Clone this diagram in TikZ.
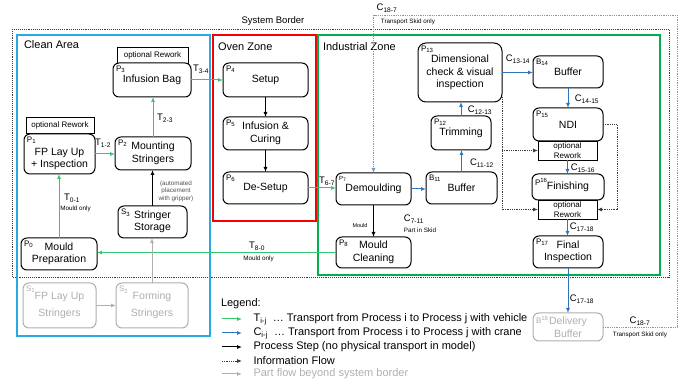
\documentclass[tikz,border=0pt]{standalone}
\usepackage{fontspec}
\setmainfont{Liberation Sans}
\usetikzlibrary{arrows.meta,calc}
\definecolor{cleanblue}{RGB}{41,171,226}
\definecolor{ovenred}{RGB}{250,0,0}
\definecolor{indgreen}{RGB}{0,176,80}
\definecolor{tgreen}{RGB}{50,200,110}
\definecolor{cblue}{RGB}{46,117,190}
\definecolor{sgray}{RGB}{175,175,175}
\definecolor{skidblue}{RGB}{110,155,210}
\definecolor{bordergray}{RGB}{60,60,60}
\definecolor{notegray}{RGB}{80,80,80}
\begin{document}
\begin{tikzpicture}[x=1pt,y=-1pt,
 every node/.style={inner sep=0pt, outer sep=0pt},
 proc/.style={draw=black, line width=1pt, rounded corners=6pt, fill=white, align=center, font=\fontsize{10.5}{12.5}\selectfont},
 sproc/.style={proc, draw=sgray, text=sgray, font=\fontsize{10.5}{17}\selectfont},
 rwbox/.style={draw=black, line width=0.9pt, fill=white, align=center, font=\fontsize{8}{10}\selectfont},
 zone/.style={line width=2.5pt},
 ztitle/.style={anchor=west, font=\fontsize{11}{13}\selectfont},
 plbl/.style={anchor=north west, font=\fontsize{8}{9}\selectfont, xshift=3pt, yshift=-3pt},
 elbl/.style={font=\fontsize{9.5}{11}\selectfont},
 small/.style={font=\fontsize{6.3}{7.5}\selectfont, align=center},
 tarrow/.style={draw=tgreen, line width=1pt, -{Latex[length=5pt,width=4pt]}},
 carrow/.style={draw=cblue, line width=1pt, -{Latex[length=5pt,width=4pt]}},
 parrow/.style={draw=black, line width=1pt, -{Latex[length=5pt,width=4pt]}},
 garrow/.style={draw=sgray, line width=1pt, -{Latex[length=5pt,width=4pt]}},
 info/.style={draw=bordergray, densely dotted, line width=0.8pt, -{Latex[length=5pt,width=4pt]}},
 skid/.style={draw=skidblue, densely dotted, line width=0.8pt, -{Latex[length=5pt,width=4pt]}},
]
\useasboundingbox (0,0) rectangle (686,387);

% system border
\draw[bordergray, densely dotted, line width=0.9pt] (12,29) rectangle (669,277);
\node[font=\fontsize{9.5}{11}\selectfont] (sb) at (273,21) {System Border};

% zones
\draw[zone, cleanblue] (17,35) rectangle (210,336);
\draw[zone, ovenred] (213,35) rectangle (316,221);
\draw[zone, indgreen] (318,35) rectangle (660,275);
\node[ztitle] (zc) at (24,45) {Clean Area};
\node[ztitle] (zo) at (218,47) {Oven Zone};
\node[ztitle] (zi) at (323,47) {Industrial Zone};

% clean area nodes
\node[rwbox, minimum width=71pt, minimum height=16pt] (rw3) at (152.5,55) {optional Rework};
\node[proc, minimum width=78pt, minimum height=34pt, label={[plbl]north west:P\textsubscript{3}}] (P3) at (152,80) {Infusion Bag};
\node[rwbox, minimum width=68pt, minimum height=16pt] (rw1) at (60,125) {optional Rework};
\node[proc, minimum width=71pt, minimum height=40pt, label={[plbl]north west:P\textsubscript{1}}] (P1) at (59.5,154) {\rule{0pt}{17pt}FP Lay Up\\+ Inspection};
\node[proc, minimum width=76pt, minimum height=33pt, label={[plbl]north west:P\textsubscript{2}}] (P2) at (153,153.5) {Mounting\\Stringers};
\node[proc, minimum width=69pt, minimum height=32pt, label={[plbl]north west:S\textsubscript{3}}] (S3) at (152.5,222) {Stringer\\Storage};
\node[proc, minimum width=76pt, minimum height=32pt, label={[plbl]north west:P\textsubscript{0}}] (P0) at (59,254) {Mould\\Preparation};
\node[sproc, minimum width=73pt, minimum height=45pt, label={[plbl, text=sgray]north west:S\textsubscript{1}}] (S1) at (59.5,305.5) {FP Lay Up\\Stringers};
\node[sproc, minimum width=72pt, minimum height=45pt, label={[plbl, text=sgray]north west:S\textsubscript{2}}] (S2) at (152,305.5) {Forming\\Stringers};

% oven zone nodes
\node[proc, minimum width=85pt, minimum height=34pt, label={[plbl]north west:P\textsubscript{4}}] (P4) at (265.5,80) {Setup};
\node[proc, minimum width=85pt, minimum height=33pt, label={[plbl]north west:P\textsubscript{5}}] (P5) at (265.5,133.5) {Infusion \&\\Curing};
\node[proc, minimum width=85pt, minimum height=32pt, label={[plbl]north west:P\textsubscript{6}}] (P6) at (265.5,188) {De-Setup};

% industrial zone nodes
\node[proc, minimum width=75pt, minimum height=32pt, label={[plbl, font=\fontsize{6}{7}\selectfont]north west:P\textsubscript{7}}] (P7) at (373.5,189) {Demoulding};
\node[proc, minimum width=75pt, minimum height=31pt, label={[plbl]north west:P\textsubscript{8}}] (P8) at (373.5,252.5) {Mould\\Cleaning};
\node[proc, minimum width=71pt, minimum height=32pt, label={[plbl]north west:B\textsubscript{11}}] (B11) at (461.5,188) {Buffer};
\node[proc, minimum width=60pt, minimum height=34pt, label={[plbl]north west:P\textsubscript{12}}] (P12) at (461,133) {Trimming};
\node[proc, rounded corners=8pt, minimum width=84pt, minimum height=59pt, label={[plbl]north west:P\textsubscript{13}}] (P13) at (460,72.5) {Dimensional\\check \& visual\\inspection};
\node[proc, minimum width=70pt, minimum height=32pt, label={[plbl]north west:B\textsubscript{14}}] (B14) at (568,72) {Buffer};
\node[proc, minimum width=70pt, minimum height=33pt, label={[plbl]north west:P\textsubscript{15}}] (P15) at (568,124.5) {NDI};
\node[rwbox, minimum width=59pt, minimum height=19pt] (rw15) at (567.5,150.5) {optional\\Rework};
\node[proc, minimum width=72pt, minimum height=26pt, label={[plbl, yshift=-1pt]north west:P\textsuperscript{16}}] (P16) at (568,187) {Finishing};
\node[rwbox, minimum width=59pt, minimum height=19pt] (rw16) at (567.5,209.5) {optional\\Rework};
\node[proc, minimum width=70pt, minimum height=32pt, label={[plbl]north west:P\textsubscript{17}}] (P17) at (568,252) {Final\\Inspection};
\node[sproc, font=\fontsize{10.5}{12.5}\selectfont, minimum width=70pt, minimum height=28pt, label={[plbl, text=sgray]north west:B\textsuperscript{18}}] (B18) at (568,327) {Delivery\\Buffer};

% green vehicle transports
\draw[tarrow] (P3.east) -- (P4.west);
\draw[tarrow] (P2.north) -- (P2.north |- P3.south);
\draw[tarrow] (P1.east) -- (P1.east -| P2.west);
\draw[tarrow] (P0.north) -- (P0.north |- P1.south);
\draw[tarrow] (P6.east) -- (P6.east -| P7.west);
\draw[tarrow] (P8.west) -- (P8.west -| P0.east);

% process steps
\draw[parrow] (S3.north) -- (S3.north |- P2.south);
\draw[parrow] (P4.south) -- (P5.north);
\draw[parrow] (P5.south) -- (P6.north);
\draw[parrow] (P7.south) -- (P8.north);

% gray flows
\draw[garrow] (S1.east) -- (S2.west);
\draw[garrow] (S2.north) -- (S2.north |- S3.south);

% crane transports
\draw[carrow] (P7.east) -- (P7.east -| B11.west);
\draw[carrow] (B11.north) -- (B11.north |- P12.south);
\draw[carrow] (P12.north) -- (P12.north |- P13.south);
\draw[carrow] (P13.east) -- (P13.east -| B14.west);
\draw[carrow] (B14.south) -- (P15.north);
\draw[carrow] (rw15.south) -- (rw15.south |- P16.north);
\draw[carrow] (rw16.south) -- (rw16.south |- P17.north);
\draw[carrow] (P17.south) -- (B18.north);

% information flow
\draw[info] ([yshift=5pt]P13.south east) |- (rw16.west);
\draw[info] (P13.south east |- rw15.west) -- (rw15.west);
\draw[info] (P15.east) -- ++(14,0) |- (rw16.east);

% skid return
\coordinate (sk1) at (677,15);
\draw[skid] (B18.east) -| (sk1) -| (P7.north);

% edge labels
\node[elbl] (lT34) at (201,69) {T\textsubscript{3-4}};
\node[elbl] (lT23) at (165,118) {T\textsubscript{2-3}};
\node[elbl] (lT12) at (103,143) {T\textsubscript{1-2}};
\node[elbl] (lT01) at (72,198) {T\textsubscript{0-1}};
\node[small] (lT01b) at (75.5,209) {Mould only};
\node[small, text=notegray] (lauto) at (176,191) {(automated\\placement\\with gripper)};
\node[elbl] (lT67) at (327,181) {T\textsubscript{6-7}};
\node[small, font=\fontsize{5.5}{6.5}\selectfont] (lmould) at (360,226) {Mould};
\node[elbl] (lC711) at (414,219) {C\textsubscript{7-11}};
\node[small] (lC711b) at (420,230) {Part in Skid};
\node[elbl] (lT80) at (257,246) {T\textsubscript{8-0}};
\node[small] (lT80b) at (258.5,259) {Mould only};
\node[elbl] (lC1112) at (482,163) {C\textsubscript{11-12}};
\node[elbl] (lC1213) at (480,110) {C\textsubscript{12-13}};
\node[elbl] (lC1314) at (518,59) {C\textsubscript{13-14}};
\node[elbl] (lC1415) at (587,99) {C\textsubscript{14-15}};
\node[elbl] (lC1516) at (583,168) {C\textsubscript{15-16}};
\node[elbl] (lC1718a) at (582,227) {C\textsubscript{17-18}};
\node[elbl] (lC1718b) at (582,299) {C\textsubscript{17-18}};
\node[elbl] (lC187a) at (640,321) {C\textsubscript{18-7}};
\node[small] (lC187ab) at (640,335) {Transport Skid only};
\node[elbl] (lC187b) at (387,8) {C\textsubscript{18-7}};
\node[small] (lC187bb) at (408,22) {Transport Skid only};

% legend
\node[anchor=west, font=\fontsize{11}{13}\selectfont] (leg) at (221,304) {Legend:};
\begin{scope}[every node/.style={anchor=west, font=\fontsize{11}{13}\selectfont}]
\node (lg1) at (250,319) {T\textsubscript{i-j}\ \ \ldots\ Transport from Process i to Process j with vehicle};
\node (lg2) at (250,333) {C\textsubscript{i-j}\ \ \ldots\ Transport from Process i to Process j with crane};
\node (lg3) at (250,347) {Process Step (no physical transport in model)};
\node (lg4) at (250,361) {Information Flow};
\node[text=sgray] (lg5) at (250,374) {Part flow beyond system border};
\end{scope}
\draw[tarrow] ([xshift=-28pt]lg1.west) -- ([xshift=-8pt]lg1.west);
\draw[carrow] ([xshift=-28pt]lg2.west) -- ([xshift=-8pt]lg2.west);
\draw[parrow] ([xshift=-28pt]lg3.west) -- ([xshift=-8pt]lg3.west);
\draw[info] ([xshift=-28pt]lg4.west) -- ([xshift=-8pt]lg4.west);
\draw[garrow] ([xshift=-28pt]lg5.west) -- ([xshift=-8pt]lg5.west);
\end{tikzpicture}
\end{document}
